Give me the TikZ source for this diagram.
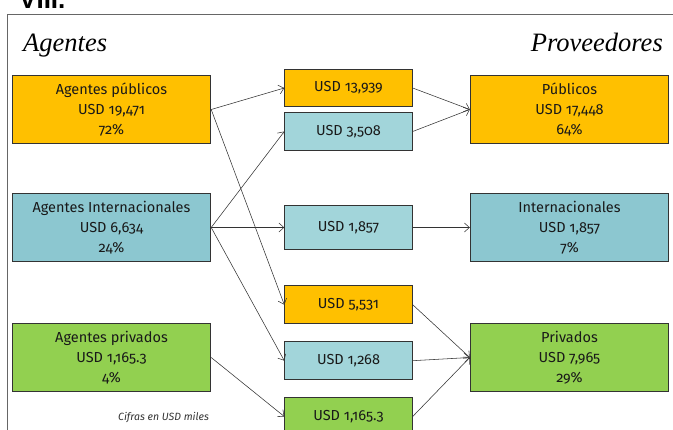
\documentclass[tikz,border=0pt]{standalone}
\usepackage{fontspec}
\setmainfont{Fira Sans}
\newfontfamily\boxfont{Fira Sans}[Numbers=OldStyle]
\newfontfamily\titlefont{Liberation Serif}
\newfontfamily\headfont{Liberation Sans}
\usetikzlibrary{arrows.meta}
\definecolor{orangebox}{HTML}{FFC000}
\definecolor{tealdark}{HTML}{8CC7D0}
\definecolor{teallight}{HTML}{A2D5DA}
\definecolor{greenbox}{HTML}{92D050}
\definecolor{edge}{HTML}{333333}
\tikzset{
  box/.style={draw=edge, line width=0.9pt, rectangle, inner sep=0pt, align=center,
    font=\boxfont\fontsize{14.5}{20}\selectfont, text=black!90},
  bigbox/.style={box, minimum width=198.5pt, minimum height=67.5pt},
  midbox/.style={box, minimum width=127.5pt, minimum height=37.5pt},
  flow/.style={draw=edge, line width=0.55pt, -{Straight Barb[length=5pt,width=9pt]}},
  heading/.style={font=\titlefont\itshape\fontsize{26.5}{30}\selectfont, inner sep=0pt}
}
\begin{document}
\begin{tikzpicture}[x=1pt,y=-1pt]
\useasboundingbox (0,0) rectangle (673,430);
\begin{scope}
\clip (0,0) rectangle (673,430);
% clipped section title
\node[anchor=base west, inner sep=0pt, font=\headfont\bfseries\fontsize{26}{28}\selectfont] (sec) at (19,9) {VIII.};
% frame
\draw[line width=1.2pt, draw=black!60] (7.5,440) -- (7.5,14.5) -- (690,14.5);
\end{scope}

\node[heading, anchor=base west] (hl) at (23,52) {Agentes};
\node[heading, anchor=base east] (hr) at (663,52) {Proveedores};

% left
\node[bigbox, fill=orangebox] (a1) at (111.5,109.5) {Agentes públicos\\USD 19,471\\72\%};
\node[bigbox, fill=tealdark] (a2) at (111.5,227.5) {Agentes Internacionales\\USD 6,634\\24\%};
\node[bigbox, fill=greenbox] (a3) at (111.5,357.5) {Agentes privados\\USD 1,165.3\\4\%};

% middle
\node[midbox, fill=orangebox] (m1) at (348.5,88) {USD 13,939};
\node[midbox, fill=teallight] (m2) at (348.5,131.5) {USD 3,508};
\node[midbox, fill=teallight, minimum height=43.5pt] (m3) at (348.5,227.5) {USD 1,857};
\node[midbox, fill=orangebox] (m4) at (348.5,304.7) {USD 5,531};
\node[midbox, fill=teallight] (m5) at (348.5,360.7) {USD 1,268};
\node[midbox, fill=greenbox] (m6) at (348.5,416.5) {USD 1,165.3};

% right
\node[bigbox, fill=orangebox] (p1) at (569.5,109.5) {Públicos\\USD 17,448\\64\%};
\node[bigbox, fill=tealdark] (p2) at (569.5,227.5) {Internacionales\\USD 1,857\\7\%};
\node[bigbox, fill=greenbox] (p3) at (569.5,357.5) {Privados\\USD 7,965\\29\%};

\node[anchor=base west, inner sep=0pt, font=\itshape\fontsize{10.5}{12}\selectfont, text=black!80] (note) at (118,421) {Cifras en USD miles};

% connectors
\draw[flow] (a1.east) -- (m1.west);
\draw[flow] (a1.east) -- (m4.west);
\draw[flow] (a2.east) -- (m2.west);
\draw[flow] (a2.east) -- (m3.west);
\draw[flow] (a2.east) -- (m5.west);
\draw[flow] (a3.east) -- (m6.west);
\draw[flow] (m1.east) -- (p1.west);
\draw[flow] (m2.east) -- (p1.west);
\draw[flow] (m3.east) -- (p2.west);
\draw[flow] (m4.east) -- (p3.west);
\draw[flow] (m5.east) -- (p3.west);
\draw[flow] (m6.east) -- (p3.west);
\end{tikzpicture}
\end{document}
